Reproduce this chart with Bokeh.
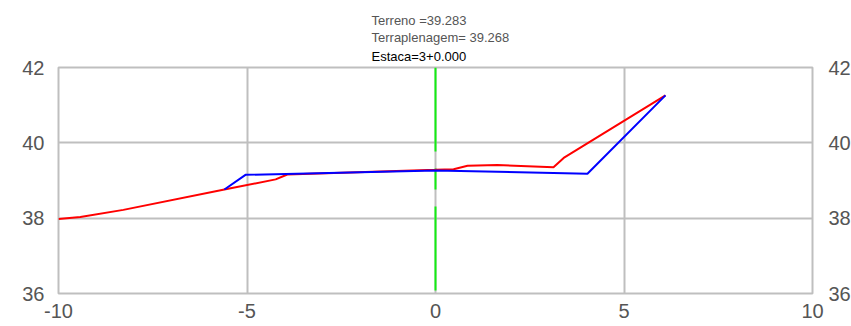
from bokeh.plotting import figure
from bokeh.models import Range1d, FixedTicker, LinearAxis, Title, PrintfTickFormatter
from bokeh.embed import file_html
from bokeh.resources import INLINE

# Terrain (Terreno) profile
terreno_x = [-10.0, -9.42, -8.28, -5.60, -4.24, -3.93, 0.0, 0.48, 0.85, 1.64, 3.13, 3.40, 6.10]
terreno_y = [37.98, 38.03, 38.22, 38.76, 39.03, 39.16, 39.283, 39.30, 39.39, 39.41, 39.35, 39.60, 41.26]

# Embankment (Terraplenagem) section
terrap_x = [-5.60, -5.04, 0.0, 4.03, 6.10]
terrap_y = [38.76, 39.15, 39.268, 39.18, 41.26]

# Station axis line
station_x = [0.0, 0.0]
station_y = [42.0, 36.0]

x_ticks = [-10, -5, 0, 5, 10]
y_ticks = [36, 38, 40, 42]

labels = ["Terreno =39.283", "Terraplenagem= 39.268", "Estaca=3+0.000"]

p = figure(frame_width=754, frame_height=226, output_backend="svg", toolbar_location=None,
           x_range=Range1d(-10, 10), y_range=Range1d(36, 42),
           x_axis_location=None, y_axis_location=None,
           min_border_left=58, min_border_top=67, min_border_right=39, min_border_bottom=33)

p.background_fill_color = "white"
p.border_fill_color = "white"
p.outline_line_color = "#bfbfbf"
p.outline_line_width = 2

def style_axis(ax, standoff, ticks):
    ax.ticker = FixedTicker(ticks=ticks)
    ax.formatter = PrintfTickFormatter(format="%d")
    ax.axis_line_color = None
    ax.major_tick_line_color = None
    ax.minor_tick_line_color = None
    ax.major_tick_out = 0
    ax.major_tick_in = 0
    ax.major_label_standoff = standoff
    ax.major_label_text_font = "Liberation Sans"
    ax.major_label_text_font_size = "20px"
    ax.major_label_text_color = "#555555"

xb = LinearAxis()
style_axis(xb, 10, x_ticks)
p.add_layout(xb, "below")

yl = LinearAxis()
style_axis(yl, 14, y_ticks)
p.add_layout(yl, "left")

yr = LinearAxis()
style_axis(yr, 16, y_ticks)
p.add_layout(yr, "right")

p.xgrid.ticker = FixedTicker(ticks=x_ticks)
p.ygrid.ticker = FixedTicker(ticks=y_ticks)
for g in (p.xgrid, p.ygrid):
    g.grid_line_color = "#bfbfbf"
    g.grid_line_width = 2

p.line(station_x, station_y, line_color="#11ee11", line_width=2, line_dash="84 17 21 17")
p.line(terreno_x, terreno_y, line_color="#ff0000", line_width=2)
p.line(terrap_x, terrap_y, line_color="#0000ff", line_width=2)

label_colors = ["#555555", "#555555", "#000000"]
label_standoffs = [2, -2, 7]
for t, c, s in reversed(list(zip(labels, label_colors, label_standoffs))):
    p.add_layout(Title(text=t, align="left", offset=313, standoff=s,
                       text_font="Liberation Sans", text_font_size="13px",
                       text_font_style="normal", text_color=c), "above")

open("out.html", "w").write(file_html(p, INLINE))
